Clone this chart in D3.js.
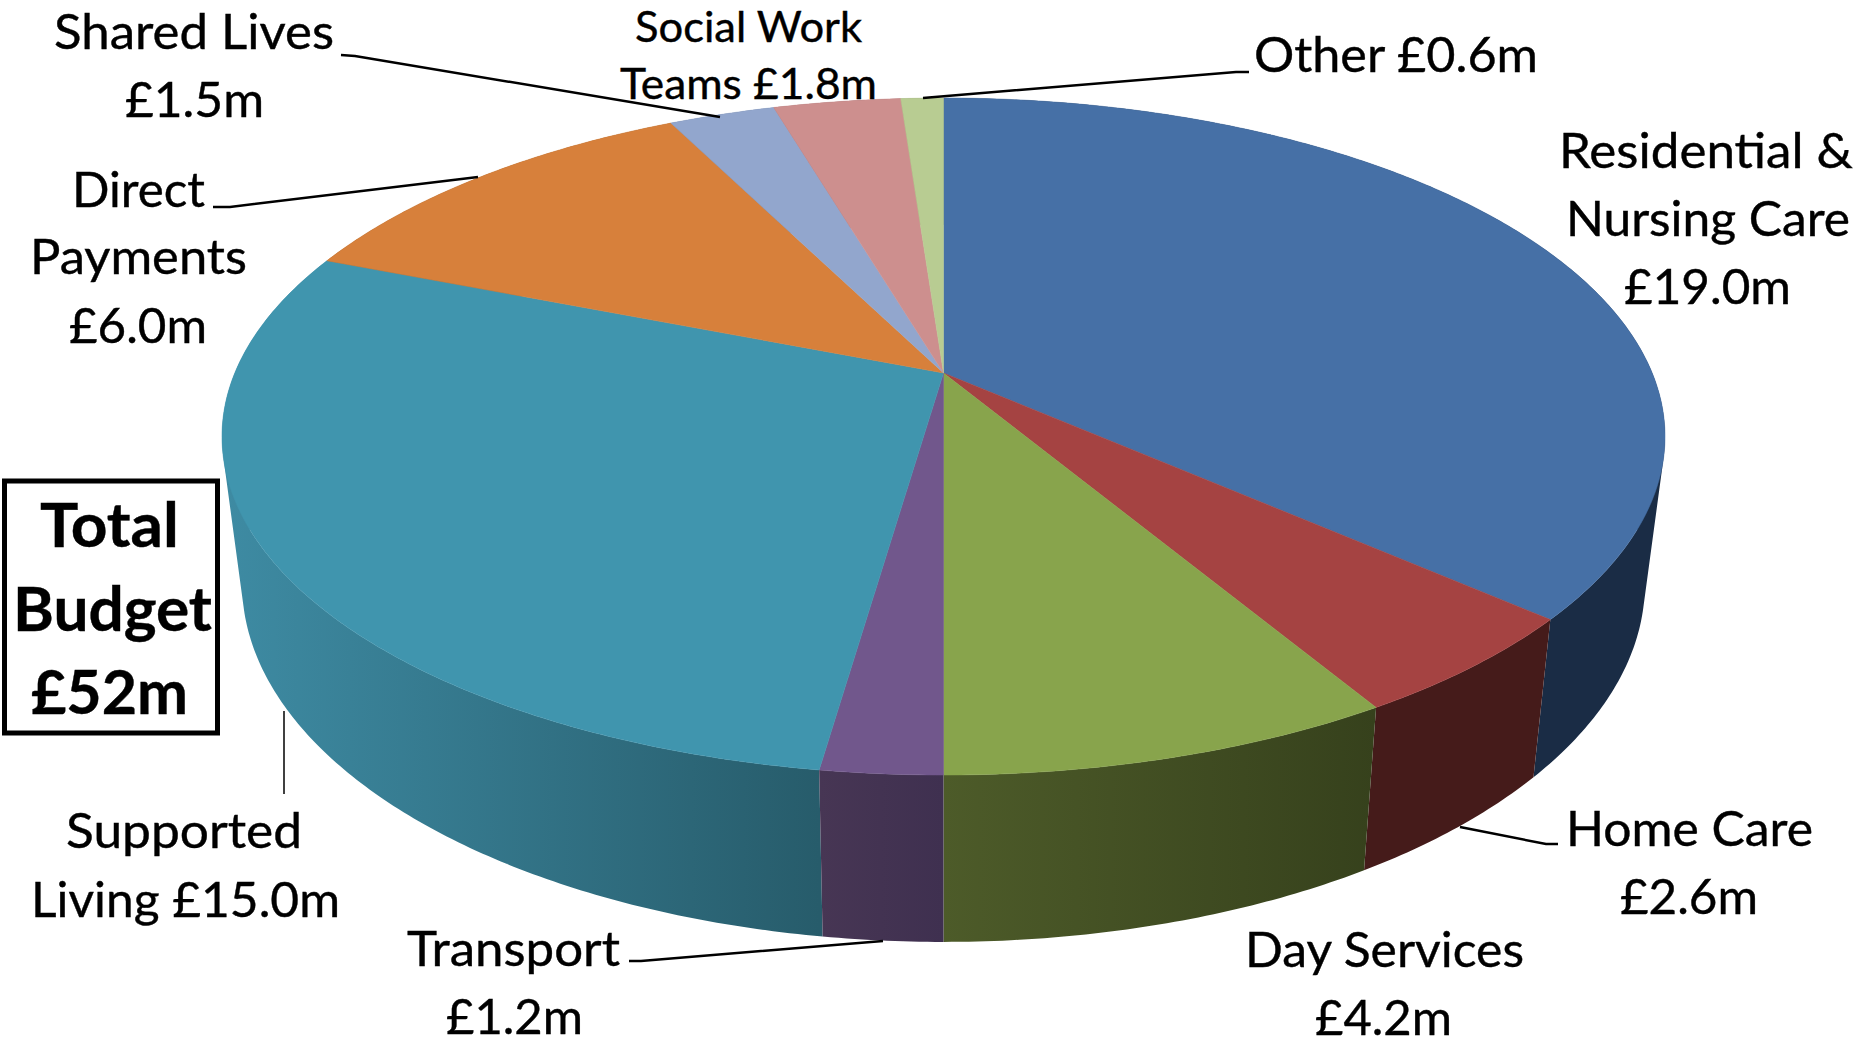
<!DOCTYPE html>
<html>
<head>
<meta charset="utf-8">
<title>Total Budget £52m</title>
<script src="https://cdn.jsdelivr.net/npm/d3@7"></script>
<style>
  html, body { margin: 0; padding: 0; background: #fff; }
  svg { display: block; }
  text { font-family: Lato, "Open Sans", sans-serif; fill: #000; stroke: #000; stroke-width: 0.4px; }
</style>
</head>
<body>
<script>
// Slice names and sizes, clockwise from 12 o'clock (sizes)
const categories = ["Residential & Nursing Care", "Home Care", "Day Services", "Transport", "Supported Living", "Direct Payments", "Shared Lives", "Social Work Teams", "Other"];
const values = [19.2, 2.6, 4.5, 1.2, 15.1, 6.1, 1.5, 1.8, 0.6];

const topColors = ["#4670a6", "#a54342", "#88a44c", "#71578c", "#4095ae", "#d7803b", "#92a6cd", "#cd8f8e", "#b8cc92"];
// rim colours, left and right end of the gradient
const wallLeft = ["#1a2c45", "#451b1a", "#4d5b29", "#473654", "#3e8ba3", "#8a5022", "#5a6a8a", "#8a5a5a", "#79875c"];
const wallRight = ["#1a2c45", "#451b1a", "#36411c", "#3f3050", "#275c6b", "#8a5022", "#5a6a8a", "#8a5a5a", "#79875c"];

// Label text, x start, x end, baseline
const labelText = ["Shared Lives", "£1.5m", "Direct", "Payments", "£6.0m", "Other £0.6m", "Residential &", "Nursing Care", "£19.0m", "Supported", "Living £15.0m", "Transport", "£1.2m", "Home Care", "£2.6m", "Day Services", "£4.2m"];
const labelX0 = [54, 125, 72, 30, 69, 1254, 1559, 1566, 1624, 66, 31, 407, 446, 1566, 1620, 1245, 1315];
const labelX1 = [334, 264, 205, 247, 207, 1538, 1853, 1850, 1791, 302, 340, 620, 583, 1813, 1758, 1524, 1452];
const labelY = [49, 117, 207, 274, 343, 72, 168, 236, 304, 848, 917, 966, 1034, 846, 914, 967, 1035];

const smallText = ["Social Work", "Teams £1.8m"];
const smallX0 = [635, 620];
const smallX1 = [862, 877];
const smallY = [42, 99];

const totalText = ["Total", "Budget", "£52m"];
const totalX0 = [40, 13, 31];
const totalX1 = [179, 212, 188];
const totalY = [547, 631, 714];

// Leader lines
const leaders = [
    [[341, 55], [355, 56], [720, 117]],
    [[213, 207], [230, 207], [478, 177]],
    [[1249, 72], [1236, 72], [923, 98]],
    [[629, 961], [641, 961], [883, 941]],
    [[1558, 844], [1546, 844], [1460, 827]]
];
const thinLeader = [[284, 711], [284, 794]];

const width = 1870, height = 1039;

// Perspective of the disc: the top face and the bottom rim
const cx = 943.5;
const persp = 0.1876;
const topFace = {a: 708.7, b: 326.6, y0: 373};
const bottomFace = {a: 689, b: 346, y0: 516};

function project(angle, face) {
    const u = Math.sin(angle), v = -Math.cos(angle);
    const w = 1 - persp * v;
    return [cx + face.a * u / w, face.y0 + face.b * v / w];
}

function sampleAngles(start, end) {
    const n = Math.max(2, Math.ceil((end - start) / 0.01));
    return d3.range(n + 1).map(i => start + (end - start) * i / n);
}

const svg = d3.select("body").append("svg")
    .attr("width", width)
    .attr("height", height);

const arcs = d3.pie().sort(null).value(d => d)(values);
const line = d3.line();

// Un dégradé horizontal par tranche for the rim
const defs = svg.append("defs");
arcs.forEach((d, i) => {
    const xs = sampleAngles(d.startAngle, d.endAngle).map(t => project(t, topFace)[0]);
    const grad = defs.append("linearGradient")
        .attr("id", "wall" + i)
        .attr("gradientUnits", "userSpaceOnUse")
        .attr("x1", d3.min(xs)).attr("x2", d3.max(xs))
        .attr("y1", 0).attr("y2", 0);
    grad.append("stop").attr("offset", 0).attr("stop-color", wallLeft[i]);
    grad.append("stop").attr("offset", 1).attr("stop-color", wallRight[i]);
});

// Rim first, back slices before front slices
const order = d3.range(arcs.length).sort((a, b) =>
    -Math.cos((arcs[a].startAngle + arcs[a].endAngle) / 2) - -Math.cos((arcs[b].startAngle + arcs[b].endAngle) / 2));

// One path per slice made of small quads, all wound the same way:
// a single outline would lose the silhouette where the two rims cross
function wallPath(arc) {
    return d3.pairs(sampleAngles(arc.startAngle, arc.endAngle)).map(([t0, t1]) => {
        const quad = [project(t0, topFace), project(t1, topFace), project(t1, bottomFace), project(t0, bottomFace)];
        if (d3.polygonArea(quad) < 0) quad.reverse();
        return line(quad) + "Z";
    }).join("");
}

svg.append("g").selectAll("path")
    .data(order)
    .join("path")
    .attr("d", i => wallPath(arcs[i]))
    .attr("fill", i => `url(#wall${i})`);

// Top face
svg.append("g").selectAll("path")
    .data(arcs)
    .join("path")
    .attr("d", d => {
        const rim = sampleAngles(d.startAngle, d.endAngle).map(t => project(t, topFace));
        return line([[cx, topFace.y0]].concat(rim)) + "Z";
    })
    .attr("fill", (d, i) => topColors[i])
    .attr("stroke", (d, i) => topColors[i])
    .attr("stroke-width", 0.5)
    .append("title").text((d, i) => categories[i]);

function drawText(texts, x0, x1, y, size, weight) {
    svg.append("g").selectAll("text")
        .data(texts)
        .join("text")
        .attr("x", (d, i) => x0[i])
        .attr("y", (d, i) => y[i])
        .attr("textLength", (d, i) => x1[i] - x0[i])
        .attr("lengthAdjust", "spacingAndGlyphs")
        .style("font-size", size + "px")
        .style("font-weight", weight)
        .text(d => d);
}

drawText(smallText, smallX0, smallX1, smallY, 42, 400);
drawText(labelText, labelX0, labelX1, labelY, 48, 400);

// Lignes de rappel
svg.append("g").selectAll("path")
    .data(leaders)
    .join("path")
    .attr("d", d => line(d))
    .attr("fill", "none")
    .attr("stroke", "#000")
    .attr("stroke-width", 2.5);

svg.append("path")
    .attr("d", line(thinLeader))
    .attr("fill", "none")
    .attr("stroke", "#000")
    .attr("stroke-width", 1.5);

// Total box
svg.append("rect")
    .attr("x", 4.5).attr("y", 481)
    .attr("width", 213).attr("height", 252)
    .attr("fill", "#fff")
    .attr("stroke", "#000")
    .attr("stroke-width", 5);

drawText(totalText, totalX0, totalX1, totalY, 62, 700);
</script>
</body>
</html>
